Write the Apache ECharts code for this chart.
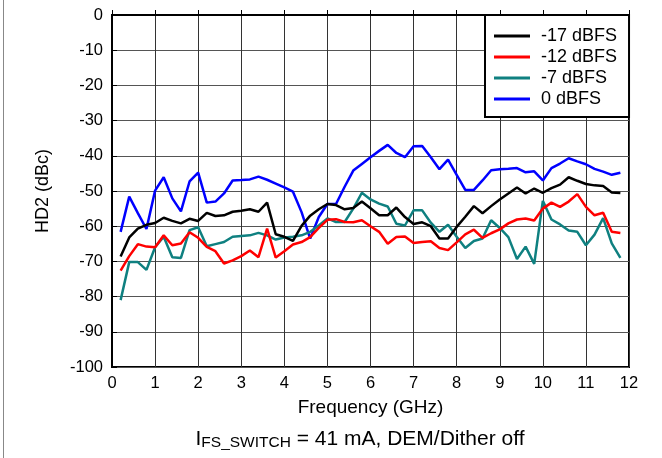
<!DOCTYPE html>
<html>
<head>
<meta charset="utf-8">
<script src="https://cdn.jsdelivr.net/npm/echarts@6/dist/echarts.min.js"></script>
<style>
html,body{margin:0;padding:0;background:#fff;}
#c{width:662px;height:458px;}
</style>
</head>
<body>
<div id="c"></div>
<script>
// Frequency (GHz) sample points
const freqs = [0.2,0.4,0.6,0.8,1.0,1.2,1.4,1.6,1.8,2.0,2.2,2.4,2.6,2.8,3.0,3.2,3.4,3.6,3.8,4.0,
  4.2,4.4,4.6,4.8,5.0,5.2,5.4,5.6,5.8,6.0,6.2,6.4,6.6,6.8,7.0,7.2,7.4,7.6,7.8,8.0,
  8.2,8.4,8.6,8.8,9.0,9.2,9.4,9.6,9.8,10.0,10.2,10.4,10.6,10.8,11.0,11.2,11.4,11.6,11.8];

const seriesNames = ['-17 dBFS','-12 dBFS','-7 dBFS','0 dBFS'];

const hd2_m17 = [-68.6,-63.2,-60.7,-59.6,-59.1,-57.6,-58.5,-59.2,-57.9,-58.5,-56.2,-57.1,-56.9,-55.9,-55.6,-55.2,-55.9,-53.3,-62.3,-63.0,
  -64.2,-59.9,-57.0,-55.2,-53.7,-54.0,-55.2,-54.8,-53.0,-54.9,-56.9,-56.9,-54.7,-57.4,-59.4,-58.9,-60.0,-63.5,-63.5,-60.2,
  -57.3,-54.3,-56.3,-54.3,-52.4,-50.7,-49.0,-50.7,-49.3,-50.5,-49.2,-48.2,-46.1,-47.1,-48.0,-48.4,-48.6,-50.4,-50.6];

const hd2_m12 = [-72.6,-68.5,-65.1,-65.8,-66.0,-62.6,-65.4,-64.9,-61.7,-63.3,-65.9,-67.1,-70.6,-69.7,-68.5,-66.9,-68.8,-60.7,-68.9,-67.1,
  -65.2,-64.5,-63.1,-60.5,-58.2,-58.0,-58.8,-58.9,-58.3,-60.0,-61.6,-65.0,-63.1,-62.9,-64.8,-64.5,-64.3,-66.2,-66.8,-64.6,
  -62.3,-61.0,-63.3,-62.0,-60.9,-59.2,-58.1,-57.8,-58.4,-55.0,-53.3,-54.5,-53.0,-50.9,-54.5,-56.9,-56.2,-61.6,-61.9];

const hd2_m7 = [-81.0,-70.2,-70.2,-72.4,-66.0,-63.0,-68.8,-69.0,-61.1,-60.3,-65.7,-65.1,-64.5,-63.0,-62.8,-62.6,-61.9,-62.6,-63.8,-63.2,
  -63.0,-62.6,-61.6,-59.8,-57.8,-58.8,-58.8,-55.0,-50.5,-52.4,-53.6,-54.4,-59.3,-59.8,-55.5,-55.5,-59.0,-61.6,-59.6,-63.0,
  -66.2,-64.2,-63.5,-58.3,-60.5,-63.1,-69.3,-65.8,-70.7,-52.8,-58.1,-59.5,-61.2,-61.6,-65.4,-62.4,-57.7,-64.9,-69.0];

const hd2_0 = [-61.6,-51.6,-56.3,-60.8,-49.9,-46.1,-52.1,-55.8,-47.3,-44.8,-53.3,-53.0,-50.7,-47.0,-46.9,-46.7,-45.9,-46.8,-47.9,-49.0,
  -50.2,-56.0,-63.5,-57.4,-53.7,-53.7,-48.8,-44.2,-42.3,-40.4,-38.6,-36.9,-39.2,-40.4,-37.3,-37.2,-40.4,-43.8,-41.1,-45.4,
  -49.7,-49.7,-47.0,-44.1,-43.8,-43.7,-43.5,-44.7,-44.4,-47.0,-43.5,-42.2,-40.7,-41.6,-42.4,-43.7,-44.5,-45.4,-44.8];

const seriesValues = [hd2_m17, hd2_m12, hd2_m7, hd2_0];
const seriesColors = ['#000000','#ff0000','#0f8080','#0000ff'];

const FONT = '"Liberation Sans", Arial, sans-serif';

const chart = echarts.init(document.getElementById('c'), null, {renderer:'canvas'});

const series = seriesNames.map((n,i)=>({
  name: n,
  type: 'line',
  symbol: 'none',
  z: 3 + (3 - i),
  lineStyle: {color: seriesColors[i], width: 2.5},
  itemStyle: {color: seriesColors[i]},
  data: freqs.map((f,k)=>[f, seriesValues[i][k]])
}));

chart.setOption({
  animation: false,
  backgroundColor: '#fff',
  grid: {left:112, right:33, top:15, bottom:91, show:true, borderColor:'#000', borderWidth:2, backgroundColor:'transparent'},
  xAxis: {
    type:'value', min:0, max:12, interval:1,
    name:'Frequency (GHz)', nameLocation:'middle', nameGap:31,
    nameTextStyle:{fontFamily:FONT, fontSize:19, color:'#000'},
    axisLine:{show:true, lineStyle:{color:'#000', width:2}},
    axisTick:{show:true, inside:true, length:5, lineStyle:{color:'#000'}},
    axisLabel:{fontFamily:FONT, fontSize:16.5, color:'#000', margin:8},
    splitLine:{show:true, lineStyle:{color:'#333', width:1}}
  },
  yAxis: {
    type:'value', min:-100, max:0, interval:10,
    name:'HD2 (dBc)', nameLocation:'middle', nameGap:60, nameRotate:90,
    nameTextStyle:{fontFamily:FONT, fontSize:18, color:'#000'},
    axisLine:{show:true, lineStyle:{color:'#000', width:2}},
    axisTick:{show:true, inside:true, length:5, lineStyle:{color:'#000'}},
    axisLabel:{fontFamily:FONT, fontSize:16.5, color:'#000', margin:9},
    splitLine:{show:true, lineStyle:{color:'#555', width:1}}
  },
  legend: {
    orient:'vertical', left:485, top:15,
    backgroundColor:'#fff', borderColor:'#000', borderWidth:2,
    padding:[12,12,9,9], itemWidth:36, itemHeight:3, itemGap:3, icon:'rect',
    textStyle:{fontFamily:FONT, fontSize:18, color:'#000', lineHeight:18, padding:[0,0,0,6]},
    data: seriesNames
  },
  graphic: [
    {type:'line', shape:{x1:3.5,y1:0,x2:3.5,y2:458}, style:{stroke:'#888', lineWidth:1}},
    {type:'text', x:360, y:427,
      style:{
        align:'center',
        rich:{
          a:{fontFamily:FONT, fontSize:21, color:'#000', lineHeight:24},
          s:{fontFamily:FONT, fontSize:15.5, color:'#000', lineHeight:24, verticalAlign:'bottom', padding:[10,0,0,0]}
        },
        text:'{a|I}{s|FS_SWITCH}{a| = 41 mA, DEM/Dither off}'
      }
    }
  ],
  series: series
});
</script>
</body>
</html>
